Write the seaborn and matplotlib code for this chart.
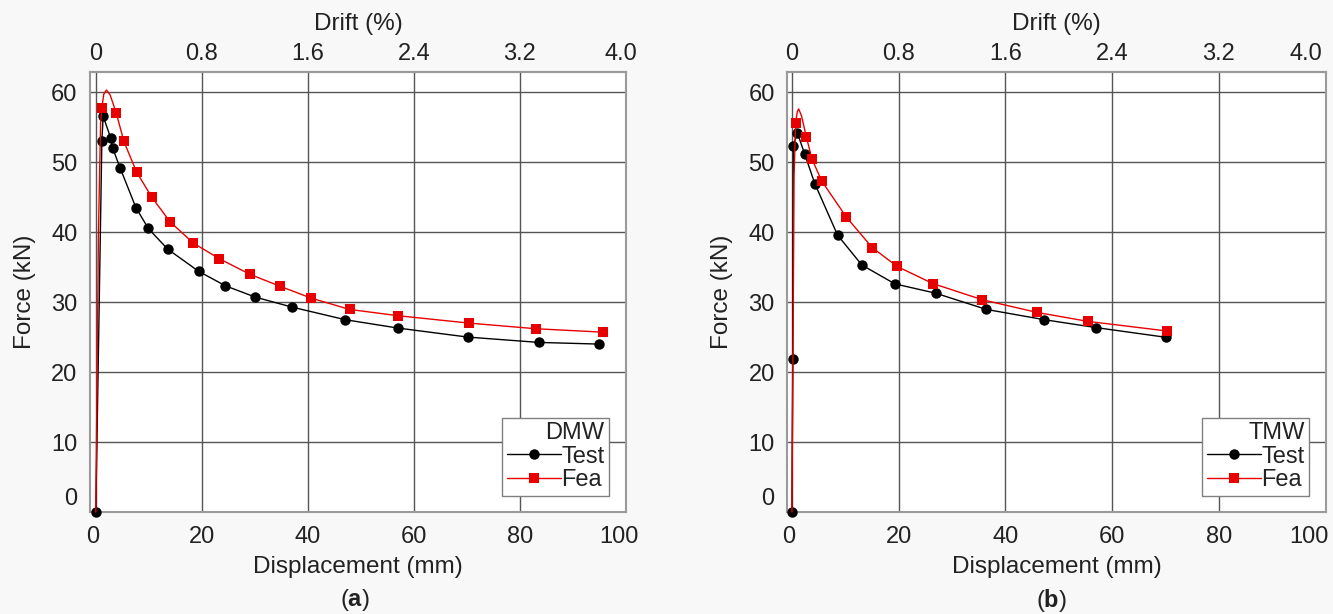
import matplotlib
matplotlib.use("Agg")
import matplotlib.pyplot as plt
from matplotlib.transforms import ScaledTranslation
import seaborn as sns
import pandas as pd

# ---------------- data ----------------
disp_ticks = [0, 20, 40, 60, 80, 100]
drift_ticks = [0, 0.8, 1.6, 2.4, 3.2, 4.0]
drift_labels = ["0", "0.8", "1.6", "2.4", "3.2", "4.0"]
force_ticks = [0, 10, 20, 30, 40, 50, 60]
wall_height_mm = 2500.0  # drift (%) = disp / height * 100

# (a) DMW
test_a_disp = [0, 1.14, 1.39, 2.78, 3.15, 4.6, 7.57, 9.9, 13.56, 19.4, 24.45,
               30.1, 37.0, 47.1, 57.0, 70.2, 83.6, 95.0]
test_a_force = [0, 53.0, 56.57, 53.5, 52.05, 49.14, 43.5, 40.52, 37.57, 34.4,
                32.33, 30.71, 29.29, 27.48, 26.29, 25.0, 24.24, 24.0]
fea_a_disp = [0, 0.5, 0.9, 1.14, 1.5, 2.0, 2.7, 3.85, 5.3, 7.7, 10.6, 14.0,
              18.4, 23.3, 29.0, 34.84, 40.63, 47.9, 57.1, 70.4, 83.1, 95.6]
fea_a_force = [0, 40.0, 55.5, 57.76, 59.7, 60.3, 59.6, 57.05, 52.95, 48.57,
               44.95, 41.48, 38.43, 36.2, 34.0, 32.24, 30.57, 28.95, 28.05,
               27.0, 26.19, 25.71]
fea_a_marks = [3] + list(range(7, 22))

# (b) TMW
test_b_disp = [0, 0.15, 0.25, 1.0, 2.39, 4.28, 8.55, 13.1, 19.3, 26.9, 36.4,
               47.25, 57.06, 70.0]
test_b_force = [0, 21.8, 52.26, 54.2, 51.16, 46.94, 39.57, 35.3, 32.6, 31.28,
                28.96, 27.49, 26.35, 24.98]
fea_b_disp = [0, 0.4, 0.69, 1.0, 1.26, 1.8, 2.7, 3.77, 5.6, 10.2, 15.03, 19.7,
              26.4, 35.7, 45.9, 55.4, 70.2]
fea_b_force = [0, 48.0, 55.6, 57.2, 57.6, 56.6, 53.6, 50.4, 47.27, 42.14,
               37.8, 35.1, 32.65, 30.33, 28.53, 27.25, 25.88]
fea_b_marks = [2] + list(range(6, 17))

# ---------------- style ----------------
sns.set_style("white")
plt.rcParams["font.family"] = ["Liberation Sans", "DejaVu Sans"]
plt.rcParams["mathtext.fontset"] = "custom"
plt.rcParams["mathtext.rm"] = "Liberation Sans"
plt.rcParams["mathtext.bf"] = "Liberation Sans:bold"
FS = 17
LFS = 17.5
TXT = "#222222"
RED = "#e80000"
FRAME = "#9a9a9a"
GRID = "#555555"

fig = plt.figure(figsize=(13.33, 6.14), dpi=100, facecolor="#f8f8f8")
ax_a = fig.add_axes([0.0675, 0.166, 0.402, 0.717])
ax_b = fig.add_axes([0.5905, 0.166, 0.404, 0.717])


def shift(label, dx_px, dy_px):
    label.set_transform(label.get_transform() +
                        ScaledTranslation(dx_px / 100.0, dy_px / 100.0, fig.dpi_scale_trans))


def draw(ax, tx, ty, fx, fy, fmarks, name, xmin, last_dx, top_last_dx):
    ax.set_facecolor("white")
    dt = pd.DataFrame({"disp": tx, "force": ty})
    df = pd.DataFrame({"disp": fx, "force": fy})
    sns.lineplot(data=dt, x="disp", y="force", ax=ax, color="black", lw=1.0,
                 marker="o", markersize=7.5, markeredgewidth=0, sort=False,
                 estimator=None, zorder=3, clip_on=False)
    sns.lineplot(data=df, x="disp", y="force", ax=ax, color=RED, lw=1.0,
                 marker="s", markersize=7.5, markeredgewidth=0, sort=False,
                 estimator=None, markevery=fmarks, zorder=4, clip_on=False)
    lines = ax.get_lines()
    ax.set_xlim(xmin, 100)
    ax.set_ylim(0, 62.9)
    ax.set_xticks(disp_ticks)
    ax.set_yticks(force_ticks)
    ax.tick_params(axis="both", length=0, labelsize=FS, colors=TXT)
    ax.tick_params(axis="x", pad=10)
    ax.tick_params(axis="y", pad=9)
    ax.grid(True, color=GRID, lw=1.0)
    for s in ax.spines.values():
        s.set_color(FRAME)
        s.set_linewidth(1.5)
        s.set_visible(True)
    ax.set_xlabel("Displacement (mm)", fontsize=LFS, labelpad=6, color=TXT)
    ax.set_ylabel("Force (kN)", fontsize=LFS, labelpad=11, color=TXT)

    sec = ax.secondary_xaxis("top", functions=(lambda x: x / wall_height_mm * 100,
                                                lambda d: d * wall_height_mm / 100))
    sec.set_xticks(drift_ticks)
    sec.set_xticklabels(drift_labels)
    sec.tick_params(length=0, labelsize=FS, pad=5, colors=TXT)
    sec.set_xlabel("Drift (%)", fontsize=LFS, labelpad=9, color=TXT)
    for s in sec.spines.values():
        s.set_color(FRAME)
        s.set_linewidth(1.5)

    # label offsets seen in the original figure
    xt = ax.xaxis.get_major_ticks()
    shift(xt[0].label1, -3, 0)
    shift(xt[-1].label1, last_dx, 0)
    yt = ax.yaxis.get_major_ticks()
    shift(yt[0].label1, 0, 16)
    st = sec.xaxis.get_major_ticks()
    shift(st[-1].label2, top_last_dx, 0)

    leg = ax.legend([lines[0], lines[1]], ["Test", "Fea"], title=name,
                    loc="lower right", fontsize=FS, title_fontsize=FS,
                    alignment="right", frameon=True, fancybox=False,
                    framealpha=1, edgecolor="#808080", borderaxespad=0.7,
                    borderpad=0.2, labelspacing=0.05, handlelength=2.3,
                    handletextpad=0.0, markerscale=1.0)
    leg.get_frame().set_linewidth(1.0)
    leg.set_zorder(10)
    leg.get_title().set_color(TXT)
    for t in leg.get_texts():
        t.set_color(TXT)


draw(ax_a, test_a_disp, test_a_force, fea_a_disp, fea_a_force, fea_a_marks, "DMW", -1.1, -7, -5)
draw(ax_b, test_b_disp, test_b_force, fea_b_disp, fea_b_force, fea_b_marks, "TMW", -0.9, -17, -20)

fig.text(0.2663, 0.022, r"($\mathbf{a}$)", ha="center", va="center", fontsize=FS, color=TXT)
fig.text(0.789, 0.022, r"($\mathbf{b}$)", ha="center", va="center", fontsize=FS, color=TXT)

fig.savefig("out.png", dpi=100, facecolor=fig.get_facecolor())
